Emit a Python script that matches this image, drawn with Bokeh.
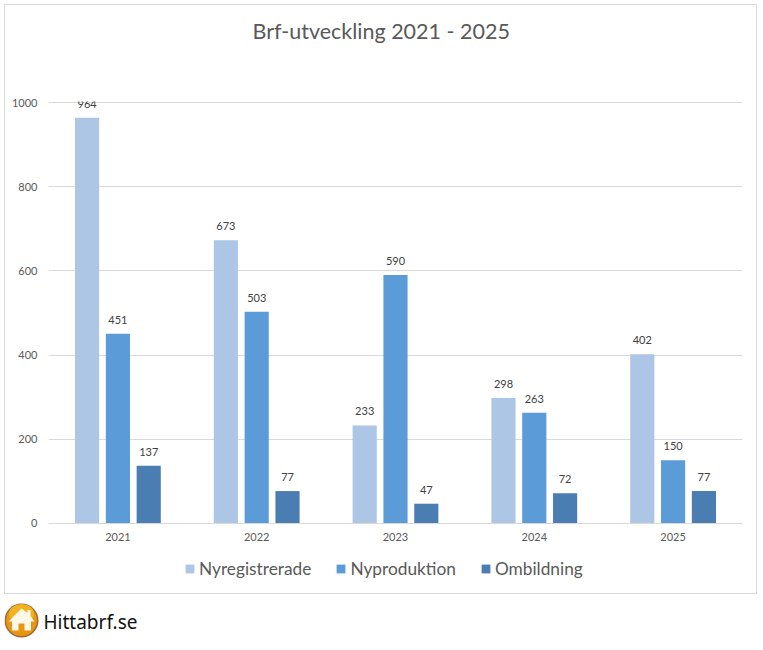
from bokeh.plotting import figure
from bokeh.models import ColumnDataSource, FactorRange, Range1d, Legend, LegendItem, FixedTicker
from bokeh.transform import dodge
from bokeh.core.properties import value
from bokeh.embed import file_html
from bokeh.resources import INLINE

title_text = "Brf-utveckling 2021 - 2025"
years = ["2021", "2022", "2023", "2024", "2025"]
nyregistrerade = [964, 673, 233, 298, 402]
nyproduktion = [451, 503, 590, 263, 150]
ombildning = [137, 77, 47, 72, 77]
y_ticks = [0, 200, 400, 600, 800, 1000]

FONT = "Lato"
GREY = "#595959"
LINE = "#d9d9d9"

# the frame runs down to the bottom of the box: the legend sits inside it, below y = 0
p = figure(x_range=FactorRange(*years, range_padding=0, factor_padding=0), y_range=Range1d(-166.3, 1002.4),
           width=751, height=588, output_backend="svg", toolbar_location=None,
           min_border_left=43, min_border_right=14, min_border_top=96, min_border_bottom=0,
           outline_line_color=None, background_fill_color="white", border_fill_color="white")
p.styles = {"outline": "1px solid #d9d9d9", "position": "absolute", "left": "5px", "top": "5px"}

src = ColumnDataSource(dict(year=years, a=nyregistrerade, b=nyproduktion, c=ombildning))
renderers = []
for col, off, color in (("a", -0.222, "#adc6e6"), ("b", 0.0, "#5b9bd7"), ("c", 0.222, "#4a7eb3")):
    r = p.vbar(x=dodge("year", off, range=p.x_range), top=col, width=0.174, bottom=0, source=src,
               fill_color=color, line_color=None)
    renderers.append(r)
    p.text(x=dodge("year", off, range=p.x_range), y=col, text=col, source=src, y_offset=-10,
           text_align="center", text_baseline="bottom", text_font=value(FONT),
           text_font_size="11px", text_color="#404040")

p.xgrid.visible = False
p.ygrid.grid_line_color = LINE
p.ygrid.grid_line_width = 1
p.yaxis.ticker = FixedTicker(ticks=y_ticks)
p.yaxis.axis_line_color = None
p.yaxis.major_tick_line_color = None
p.yaxis.major_tick_out = 0
p.yaxis.minor_tick_line_color = None
p.yaxis.major_label_standoff = 11
p.yaxis.major_label_text_font = FONT
p.yaxis.major_label_text_font_size = "11px"
p.yaxis.major_label_text_color = GREY
p.xaxis.fixed_location = 0
p.xaxis.axis_line_color = LINE
p.xaxis.major_tick_line_color = None
p.xaxis.major_tick_out = 0
p.xaxis.minor_tick_line_color = None
p.xaxis.major_label_standoff = 10
p.xaxis.major_label_text_font = FONT
p.xaxis.major_label_text_font_size = "11px"
p.xaxis.major_label_text_color = GREY

legend = Legend(items=[LegendItem(label=value(n), renderers=[r]) for n, r in
                       zip(["Nyregistrerade", "Nyproduktion", "Ombildning"], renderers)],
                orientation="horizontal", location=(136, 14), glyph_width=11, glyph_height=11,
                label_standoff=4, spacing=24, padding=0, margin=0, border_line_color=None,
                background_fill_alpha=0, label_text_font=FONT, label_text_font_size="17.3px",
                label_text_color=GREY)
p.add_layout(legend, "center")

# the title, in a small figure of its own laid over the empty top of the box
t = figure(x_range=Range1d(0, 290), y_range=Range1d(36, 0), width=290, height=36,
           output_backend="svg", toolbar_location=None, min_border=0, outline_line_color=None,
           x_axis_type=None, y_axis_type=None, border_fill_color="white", background_fill_color="white")
t.styles = {"position": "absolute", "left": "240px", "top": "12px"}
t.xgrid.visible = False
t.ygrid.visible = False
t.text(x=[12], y=[18], text=[title_text], text_font=value(FONT), text_font_size="21.5px",
       text_color=GREY, text_baseline="middle", text_align="left")

# footer with the logo and site name, in pixel-like coordinates
f = figure(x_range=Range1d(0, 200), y_range=Range1d(48, 0), width=200, height=48,
           output_backend="svg", toolbar_location=None, min_border=0, outline_line_color=None,
           x_axis_type=None, y_axis_type=None, border_fill_color="white", background_fill_color="white")
f.styles = {"position": "absolute", "left": "4px", "top": "598px"}
f.xgrid.visible = False
f.ygrid.visible = False
f.circle(x=[17], y=[22], radius=17, fill_color="#9a6a3c", line_color=None)
f.circle(x=[17], y=[22], radius=15.5, fill_color="#e8950f", line_color=None)
f.ellipse(x=[17], y=[15], width=[25], height=[19], fill_color="#f2b320", line_color=None)
f.patch(x=[17, 23, 23, 26, 26, 30, 26.5, 26.5, 20, 20, 14, 14, 7.5, 7.5, 4],
        y=[10, 14.5, 11.5, 11.5, 17.5, 23, 23, 32, 32, 25, 25, 32, 32, 23, 23],
        fill_color="#fff8e8", line_color=None)
f.text(x=[39], y=[23], text=["Hittabrf.se"], text_font=value("Noto Sans"), text_font_size="19px",
       text_color="#111111", text_baseline="middle", text_align="left")

open("out.html", "w").write(file_html([p, t, f], INLINE))
